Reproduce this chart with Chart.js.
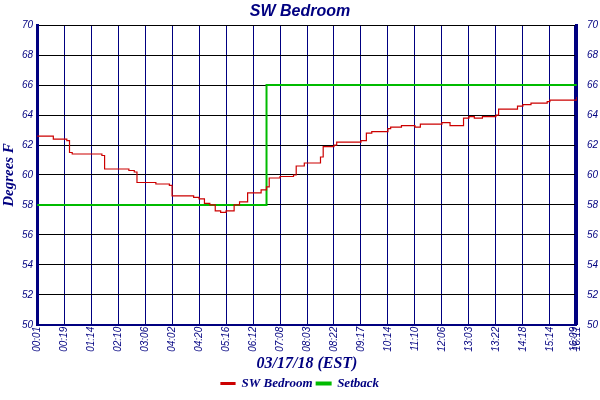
<!DOCTYPE html>
<html>
<head>
<meta charset="utf-8">
<script src="https://cdn.jsdelivr.net/npm/chart.js@4/dist/chart.umd.min.js"></script>
<style>body{margin:0;background:#fff}#c{width:600px;height:400px}</style>
</head>
<body>
<div id="c"><canvas id="chart" width="600" height="400"></canvas></div>
<script>
// time labels, one per vertical grid line (x in label-index units)
const timeLabels = ['00:01','00:19','01:14','02:10','03:06','04:02','04:20','05:16','06:12','07:08',
  '08:03','08:22','09:17','10:14','11:10','12:06','13:03','13:22','14:18','15:14','16:09','16:11'];
const tickPos = [0,1,2,3,4,5,6,7,8,9,10,11,12,13,14,15,16,17,18,19,19.9,20];

// SW Bedroom readings [x, degrees F]
const bedroomX = [0,0.6,0.6,1.1,1.2,1.3,2.4,2.5,3.4,3.6,3.7,4.4,4.5,4.9,5.0,5.8,6.0,6.2,6.4,6.6,6.8,7.0,7.3,7.5,7.8,8.3,8.5,8.6,9.0,9.5,9.6,9.9,10.5,10.6,11.0,11.1,12.0,12.2,12.4,13.0,13.1,13.5,14.0,14.2,15.0,15.3,15.8,16.0,16.2,16.5,17.0,17.1,17.8,18.0,18.3,18.9,19.0,19.6,20.0];
const bedroomY = [62.6,62.5,62.4,62.3,61.5,61.4,61.3,60.4,60.3,60.2,59.5,59.4,59.4,59.3,58.6,58.5,58.4,58.1,58.0,57.6,57.5,57.6,58.0,58.2,58.8,59.0,59.2,59.8,59.9,60.0,60.6,60.8,61.2,61.9,62.0,62.2,62.3,62.8,62.9,63.1,63.2,63.3,63.2,63.4,63.5,63.3,63.8,63.9,63.8,63.9,64.0,64.4,64.6,64.7,64.8,64.9,65.0,65.0,65.2];
// Setback setpoint
const setbackX = [0,8.5,8.5,20];
const setbackY = [58,58,66,66];

const yTicks = [50,52,54,56,58,60,62,64,66,68,70];
const navy = '#000080';
const pts = (xs, ys) => xs.map((x, i) => ({x, y: ys[i]}));
const tickFont = {family: 'Liberation Sans', style: 'italic', size: 10};

new Chart(document.getElementById('chart'), {
  type: 'line',
  data: {
    datasets: [
      {label: 'SW Bedroom', data: pts(bedroomX, bedroomY), borderColor: '#cc0000', backgroundColor: '#cc0000', borderWidth: 1.2, pointRadius: 0, stepped: true},
      {label: 'Setback', data: pts(setbackX, setbackY), borderColor: '#00bb00', backgroundColor: '#00bb00', borderWidth: 2, pointRadius: 0}
    ]
  },
  options: {
    animation: false,
    responsive: false,
    layout: {padding: {left: 0, right: 0, top: 2, bottom: 0}},
    plugins: {
      title: {display: true, text: 'SW Bedroom', color: navy, padding: {top: 0, bottom: 4},
        font: {family: 'Liberation Sans', style: 'italic', weight: 'bold', size: 16}},
      legend: {position: 'bottom', labels: {color: navy, boxWidth: 14, boxHeight: 2, padding: 4,
        font: {family: 'Liberation Serif', style: 'italic', weight: 'bold', size: 13}}},
      tooltip: {enabled: false}
    },
    scales: {
      x: {
        type: 'linear', min: 0, max: 20,
        afterBuildTicks: s => { s.ticks = tickPos.map(v => ({value: v})); },
        ticks: {color: navy, font: tickFont, minRotation: 90, maxRotation: 90, autoSkip: false, padding: 2,
          callback: (v, i) => timeLabels[i]},
        grid: {color: navy, lineWidth: 1, drawTicks: false},
        border: {color: navy, width: 2},
        title: {display: true, text: '03/17/18 (EST)', color: navy, padding: {top: 0, bottom: 0},
          font: {family: 'Liberation Serif', style: 'italic', weight: 'bold', size: 16}}
      },
      y: {
        min: 50, max: 70,
        afterBuildTicks: s => { s.ticks = yTicks.map(v => ({value: v})); },
        ticks: {color: navy, font: tickFont, padding: 4},
        grid: {color: '#000000', lineWidth: 1, drawTicks: false},
        border: {color: navy, width: 3},
        title: {display: true, text: 'Degrees F', color: navy, padding: 0,
          font: {family: 'Liberation Serif', style: 'italic', weight: 'bold', size: 15}}
      },
      y2: {
        position: 'right', min: 50, max: 70,
        afterBuildTicks: s => { s.ticks = yTicks.map(v => ({value: v})); },
        ticks: {color: navy, font: tickFont, padding: 2},
        grid: {display: false},
        border: {color: navy, width: 3}
      }
    }
  }
});
</script>
</body>
</html>
